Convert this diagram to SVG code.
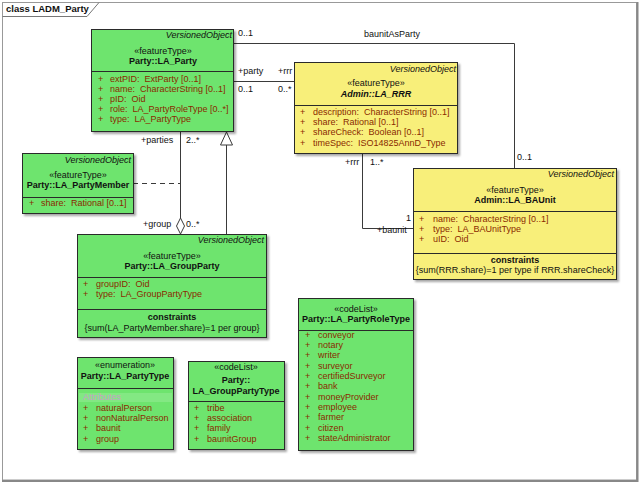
<svg xmlns="http://www.w3.org/2000/svg" width="640" height="483" viewBox="0 0 640 483">
<defs>
<filter id="sh" x="-5%" y="-5%" width="115%" height="115%"><feDropShadow dx="2" dy="2" stdDeviation="1" flood-color="#000" flood-opacity="0.35"/></filter>
</defs>
<style>
text{font-family:"Liberation Sans",Arial,sans-serif;font-size:9px;fill:#111;white-space:pre}
.box{stroke:#2a2a2a;stroke-width:1;filter:url(#sh)}
.grn{fill:#6ee46e}
.yel{fill:#f8ef7a}
.dv{stroke:#2a2a2a;stroke-width:1}
.vo{font-style:italic;text-anchor:end}
.st{text-anchor:middle}
.nm{text-anchor:middle;font-weight:bold}
.at{fill:#8a2a00}
.con{stroke:#3a3a3a;stroke-width:1;fill:none}
.attr{fill:#c8a0c8}
</style>
<rect width="640" height="483" fill="#fff"/>
<g id="frame">
<rect x="2.5" y="2.5" width="634" height="477.5" fill="none" stroke="#999" stroke-width="1"/>
<path d="M637.5,2 V481 H2" fill="none" stroke="#888" stroke-width="2"/>
<path d="M2.5,16.5 H87 L99,2.5" fill="none" stroke="#777" stroke-width="1"/>
<text x="6" y="12" font-weight="bold" style="font-size:9.5px">class LADM_Party</text>
</g>
<g id="connectors">
<polyline class="con" points="234,43.5 514.5,43.5 514.5,168"/>
<line class="con" x1="234" y1="81.5" x2="294" y2="81.5"/>
<line class="con" x1="180.5" y1="131" x2="180.5" y2="218"/>
<polygon points="180.5,218 184.5,226 180.5,234 176.5,226" fill="#fff" stroke="#3a3a3a"/>
<line class="con" x1="226.5" y1="145" x2="226.5" y2="234"/>
<polygon points="226.5,132 220.5,145 232.5,145" fill="#fff" stroke="#3a3a3a"/>
<line class="con" x1="133" y1="183.5" x2="180" y2="183.5" stroke-dasharray="5,4"/>
<polyline class="con" points="362.5,153 362.5,228.5 413,228.5"/>
<text x="238" y="36">0..1</text>
<text x="392" y="37" class="st">baunitAsParty</text>
<text x="238" y="74">+party</text>
<text x="278" y="74">+rrr</text>
<text x="238" y="92">0..1</text>
<text x="278" y="92">0..*</text>
<text x="141" y="143">+parties</text>
<text x="186" y="143">2..*</text>
<text x="143" y="227">+group</text>
<text x="186" y="227">0..*</text>
<text x="345" y="165">+rrr</text>
<text x="370" y="165">1..*</text>
<text x="406" y="221">1</text>
<text x="377" y="233">+baunit</text>
<text x="517" y="160">0..1</text>
</g>
<g id="LA_Party">
<rect class="box grn" x="91.5" y="29.5" width="142" height="102"/>
<line class="dv" x1="91.5" y1="71.5" x2="233.5" y2="71.5"/>
<text class="vo" x="232" y="38">VersionedObject</text>
<text class="st" x="163" y="54">«featureType»</text>
<text class="nm" x="163" y="64">Party::LA_Party</text>
<text class="at" x="98" y="82">+</text><text class="at" x="110" y="82">extPID:  ExtParty [0..1]</text>
<text class="at" x="98" y="92">+</text><text class="at" x="110" y="92">name:  CharacterString [0..1]</text>
<text class="at" x="98" y="102">+</text><text class="at" x="110" y="102">pID:  Oid</text>
<text class="at" x="98" y="112">+</text><text class="at" x="110" y="112">role:  LA_PartyRoleType [0..*]</text>
<text class="at" x="98" y="122">+</text><text class="at" x="110" y="122">type:  LA_PartyType</text>
</g>
<g id="LA_RRR">
<rect class="box yel" x="294.5" y="62.5" width="163" height="91"/>
<line class="dv" x1="294.5" y1="105.5" x2="457.5" y2="105.5"/>
<text class="vo" x="456" y="72">VersionedObject</text>
<text class="st" x="376" y="86">«featureType»</text>
<text class="nm" x="376" y="97" font-style="italic">Admin::LA_RRR</text>
<text class="at" x="300" y="115">+</text><text class="at" x="313" y="115">description:  CharacterString [0..1]</text>
<text class="at" x="300" y="125">+</text><text class="at" x="313" y="125">share:  Rational [0..1]</text>
<text class="at" x="300" y="135">+</text><text class="at" x="313" y="135">shareCheck:  Boolean [0..1]</text>
<text class="at" x="300" y="146">+</text><text class="at" x="313" y="146">timeSpec:  ISO14825AnnD_Type</text>
</g>
<g id="LA_PartyMember">
<rect class="box grn" x="22.5" y="153.5" width="111" height="60"/>
<line class="dv" x1="22.5" y1="197.5" x2="133.5" y2="197.5"/>
<text class="vo" x="131" y="163">VersionedObject</text>
<text class="st" x="78" y="178">«featureType»</text>
<text class="nm" x="78" y="188">Party::LA_PartyMember</text>
<text class="at" x="29" y="206">+</text><text class="at" x="41" y="206">share:  Rational [0..1]</text>
</g>
<g id="LA_GroupParty">
<rect class="box grn" x="77.5" y="234.5" width="189" height="103"/>
<line class="dv" x1="77.5" y1="277.5" x2="266.5" y2="277.5"/>
<line class="dv" x1="77.5" y1="309.5" x2="266.5" y2="309.5"/>
<text class="vo" x="264" y="243">VersionedObject</text>
<text class="st" x="172" y="259">«featureType»</text>
<text class="nm" x="172" y="269">Party::LA_GroupParty</text>
<text class="at" x="83" y="287">+</text><text class="at" x="96" y="287">groupID:  Oid</text>
<text class="at" x="83" y="297">+</text><text class="at" x="96" y="297">type:  LA_GroupPartyType</text>
<text class="nm" x="172" y="320">constraints</text>
<text class="st" x="172" y="331">{sum(LA_PartyMember.share)=1 per group}</text>
</g>
<g id="LA_BAUnit">
<rect class="box yel" x="413.5" y="168.5" width="203" height="111"/>
<line class="dv" x1="413.5" y1="211.5" x2="616.5" y2="211.5"/>
<line class="dv" x1="413.5" y1="253.5" x2="616.5" y2="253.5"/>
<text class="vo" x="614" y="177">VersionedObject</text>
<text class="st" x="515" y="193">«featureType»</text>
<text class="nm" x="515" y="203">Admin::LA_BAUnit</text>
<text class="at" x="419" y="222">+</text><text class="at" x="433" y="222">name:  CharacterString [0..1]</text>
<text class="at" x="419" y="232">+</text><text class="at" x="433" y="232">type:  LA_BAUnitType</text>
<text class="at" x="419" y="242">+</text><text class="at" x="433" y="242">uID:  Oid</text>
<text class="nm" x="515" y="263">constraints</text>
<text class="st" x="515" y="273">{sum(RRR.share)=1 per type if RRR.shareCheck}</text>
</g>
<g id="LA_PartyType">
<rect class="box grn" x="77.5" y="357.5" width="96" height="92"/>
<line class="dv" x1="77.5" y1="388.5" x2="173.5" y2="388.5"/>
<text class="st" x="125" y="368">«enumeration»</text>
<text class="nm" x="125" y="379">Party::LA_PartyType</text>
<rect x="79" y="393" width="93" height="9" fill="#fff" opacity="0.15"/>
<text class="attr" x="83" y="400">Attributes</text>
<text class="at" x="83" y="411">+</text><text class="at" x="96" y="411">naturalPerson</text>
<text class="at" x="83" y="421">+</text><text class="at" x="96" y="421">nonNaturalPerson</text>
<text class="at" x="83" y="431">+</text><text class="at" x="96" y="431">baunit</text>
<text class="at" x="83" y="442">+</text><text class="at" x="96" y="442">group</text>
</g>
<g id="LA_GroupPartyType">
<rect class="box grn" x="188.5" y="361.5" width="96" height="88"/>
<line class="dv" x1="188.5" y1="401.5" x2="284.5" y2="401.5"/>
<text class="st" x="236" y="370">«codeList»</text>
<text class="nm" x="236" y="383">Party::</text>
<text class="nm" x="236" y="394">LA_GroupPartyType</text>
<text class="at" x="194" y="411">+</text><text class="at" x="207" y="411">tribe</text>
<text class="at" x="194" y="421">+</text><text class="at" x="207" y="421">association</text>
<text class="at" x="194" y="431">+</text><text class="at" x="207" y="431">family</text>
<text class="at" x="194" y="442">+</text><text class="at" x="207" y="442">baunitGroup</text>
</g>
<g id="LA_PartyRoleType">
<rect class="box grn" x="298.5" y="298.5" width="115" height="152"/>
<line class="dv" x1="298.5" y1="330.5" x2="413.5" y2="330.5"/>
<text class="st" x="356" y="312">«codeList»</text>
<text class="nm" x="356" y="322">Party::LA_PartyRoleType</text>
<text class="at" x="305" y="338">+</text><text class="at" x="318" y="338">conveyor</text>
<text class="at" x="305" y="348">+</text><text class="at" x="318" y="348">notary</text>
<text class="at" x="305" y="358">+</text><text class="at" x="318" y="358">writer</text>
<text class="at" x="305" y="369">+</text><text class="at" x="318" y="369">surveyor</text>
<text class="at" x="305" y="379">+</text><text class="at" x="318" y="379">certifiedSurveyor</text>
<text class="at" x="305" y="389">+</text><text class="at" x="318" y="389">bank</text>
<text class="at" x="305" y="400">+</text><text class="at" x="318" y="400">moneyProvider</text>
<text class="at" x="305" y="410">+</text><text class="at" x="318" y="410">employee</text>
<text class="at" x="305" y="420">+</text><text class="at" x="318" y="420">farmer</text>
<text class="at" x="305" y="431">+</text><text class="at" x="318" y="431">citizen</text>
<text class="at" x="305" y="441">+</text><text class="at" x="318" y="441">stateAdministrator</text>
</g>
</svg>
